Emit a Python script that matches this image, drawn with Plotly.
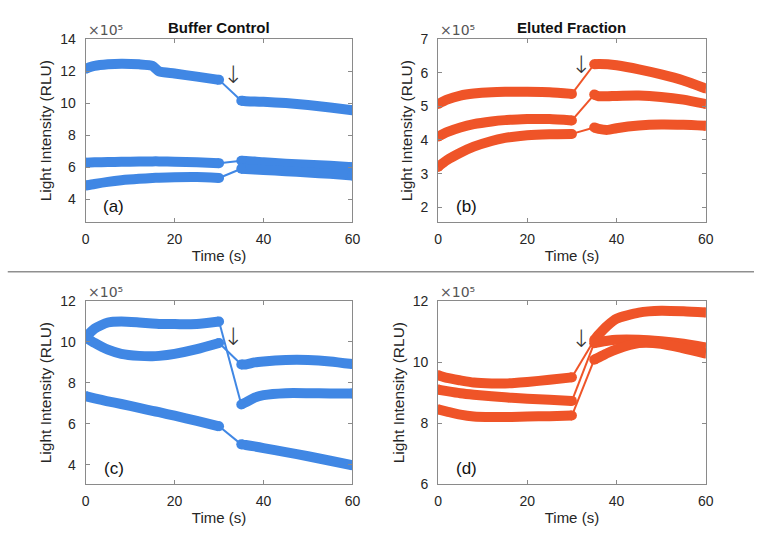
import plotly.graph_objects as go

# ---------------- data (values in units of 1e5 RLU) ----------------
T_PRE = [0, 2, 5, 8, 12, 15, 16.5, 20, 25, 30]
T_POST = [35, 36, 38, 40, 45, 50, 55, 60]

# (a) Buffer Control, top row
a1_pre = [12.15, 12.32, 12.42, 12.46, 12.42, 12.32, 11.98, 11.85, 11.65, 11.45]
a1_post = [10.15, 10.12, 10.10, 10.08, 10.00, 9.88, 9.72, 9.55]
a2_pre = [6.28, 6.30, 6.32, 6.33, 6.35, 6.36, 6.36, 6.34, 6.30, 6.25]
a2_post = [6.40, 6.38, 6.35, 6.30, 6.22, 6.15, 6.08, 6.00]
a3_pre = [4.85, 4.95, 5.08, 5.18, 5.27, 5.32, 5.34, 5.37, 5.38, 5.32]
a3_post = [5.90, 5.88, 5.85, 5.82, 5.75, 5.67, 5.58, 5.48]

# (b) Eluted Fraction, top row
b1_pre = [5.07, 5.20, 5.32, 5.38, 5.42, 5.43, 5.43, 5.43, 5.42, 5.37]
b1_post = [6.25, 6.26, 6.25, 6.22, 6.10, 5.95, 5.77, 5.53]
b2_pre = [4.10, 4.23, 4.37, 4.47, 4.55, 4.59, 4.60, 4.62, 4.62, 4.58]
b2_post = [5.35, 5.30, 5.30, 5.31, 5.32, 5.28, 5.20, 5.07]
b3_pre = [3.20, 3.40, 3.62, 3.80, 3.97, 4.06, 4.09, 4.14, 4.17, 4.18]
b3_post = [4.37, 4.33, 4.30, 4.35, 4.43, 4.46, 4.45, 4.42]

# (c) Buffer Control, bottom row
c1_pre = [10.22, 10.65, 10.95, 11.00, 10.95, 10.90, 10.88, 10.87, 10.88, 11.00]
c1_post = [6.95, 7.05, 7.28, 7.40, 7.50, 7.50, 7.48, 7.48]
c2_pre = [10.22, 9.95, 9.62, 9.42, 9.32, 9.30, 9.32, 9.42, 9.65, 9.95]
c2_post = [8.90, 8.90, 9.00, 9.05, 9.12, 9.12, 9.05, 8.92]
c3_pre = [7.35, 7.25, 7.10, 6.97, 6.78, 6.64, 6.57, 6.40, 6.15, 5.88]
c3_post = [5.00, 4.97, 4.90, 4.82, 4.62, 4.42, 4.20, 3.98]

# (d) Eluted Fraction, bottom row
d1_pre = [9.57, 9.48, 9.40, 9.33, 9.30, 9.30, 9.31, 9.35, 9.42, 9.50]
d1_post = [10.72, 10.90, 11.20, 11.42, 11.62, 11.68, 11.66, 11.62]
d2_pre = [9.10, 9.05, 8.98, 8.93, 8.88, 8.85, 8.83, 8.80, 8.77, 8.73]
d2_post = [10.62, 10.65, 10.70, 10.73, 10.73, 10.68, 10.60, 10.48]
d3_pre = [8.45, 8.38, 8.28, 8.22, 8.20, 8.20, 8.20, 8.22, 8.23, 8.25]
d3_post = [10.08, 10.15, 10.30, 10.42, 10.62, 10.60, 10.45, 10.28]

X_TICKS = [0, 20, 40, 60]
Y_TICKS = {
    "a": [4, 6, 8, 10, 12, 14],
    "b": [2, 3, 4, 5, 6, 7],
    "c": [4, 6, 8, 10, 12],
    "d": [6, 8, 10, 12],
}
Y_RANGES = {"a": [2.55, 14], "b": [1.55, 7], "c": [3.05, 12], "d": [6, 12]}
PANEL_TITLES = {"a": "Buffer Control", "b": "Eluted Fraction"}
ARROWS = {"a": (33.2, 11.78), "b": (32.0, 6.22), "c": (33.2, 10.25), "d": (32.0, 10.75)}

BLUE = "#4087e4"
ORANGE = "#ef5428"

panels = {
    "a": ([(a1_pre, a1_post), (a2_pre, a2_post), (a3_pre, a3_post)], BLUE, "x", "y"),
    "b": ([(b1_pre, b1_post), (b2_pre, b2_post), (b3_pre, b3_post)], ORANGE, "x2", "y2"),
    "c": ([(c1_pre, c1_post), (c2_pre, c2_post), (c3_pre, c3_post)], BLUE, "x3", "y3"),
    "d": ([(d1_pre, d1_post), (d2_pre, d2_post), (d3_pre, d3_post)], ORANGE, "x4", "y4"),
}

W, H = 762, 535
def px_x(p):
    return p / W
def px_y(p):
    return 1 - p / H

domains = {
    "a": ([px_x(83), px_x(354)], [px_y(221), px_y(32)]),
    "b": ([px_x(441), px_x(713)], [px_y(221), px_y(32)]),
    "c": ([px_x(83), px_x(354)], [px_y(491), px_y(302)]),
    "d": ([px_x(441), px_x(713)], [px_y(491), px_y(302)]),
}

fig = go.Figure()
LW = 10
for key, (series, color, xa, ya) in panels.items():
    for pre, post in series:
        # thin connector across the injection gap
        fig.add_trace(go.Scatter(
            x=[T_PRE[-1], T_POST[0]], y=[pre[-1], post[0]], mode="lines",
            line=dict(color=color, width=2), xaxis=xa, yaxis=ya,
            showlegend=False, hoverinfo="skip"))
        for tt, vv in ((T_PRE, pre), (T_POST, post)):
            fig.add_trace(go.Scatter(
                x=tt, y=vv, mode="lines",
                line=dict(color=color, width=LW, shape="spline", smoothing=0.6),
                xaxis=xa, yaxis=ya, showlegend=False))
        # rounded ends of the recorded segments
        fig.add_trace(go.Scatter(
            x=[T_PRE[0], T_PRE[-1], T_POST[0], T_POST[-1]],
            y=[pre[0], pre[-1], post[0], post[-1]], mode="markers",
            marker=dict(color=color, size=LW, opacity=1, line=dict(width=0)),
            xaxis=xa, yaxis=ya, showlegend=False, hoverinfo="skip"))

FONT = "Liberation Sans, Arial, Helvetica, sans-serif"
TXT = "#262626"
AX = "#8a8a8a"

layout = dict(
    width=W, height=H, margin=dict(l=0, r=0, t=0, b=0),
    paper_bgcolor="white", plot_bgcolor="white",
    font=dict(family=FONT, color=TXT, size=14),
    annotations=[], shapes=[],
)
names = {"a": ("xaxis", "yaxis", "x", "y"), "b": ("xaxis2", "yaxis2", "x2", "y2"),
         "c": ("xaxis3", "yaxis3", "x3", "y3"), "d": ("xaxis4", "yaxis4", "x4", "y4")}
for key, (xn, yn, xr, yr) in names.items():
    xd, yd = domains[key]
    layout[xn] = dict(
        domain=xd, anchor=yr, range=[0, 60], tickvals=X_TICKS,
        ticks="inside", ticklen=4, tickcolor=AX, showline=True, linecolor=AX,
        linewidth=1, mirror="ticks", showgrid=False, zeroline=False,
        tickfont=dict(size=14, color=TXT), ticklabelstandoff=4,
        title=dict(text="Time (s)", font=dict(size=15, color=TXT), standoff=4),
    )
    layout[yn] = dict(
        domain=yd, anchor=xr, range=Y_RANGES[key], tickvals=Y_TICKS[key],
        ticks="inside", ticklen=4, tickcolor=AX, showline=True, linecolor=AX,
        linewidth=1, mirror="ticks", showgrid=False, zeroline=False,
        tickfont=dict(size=14, color=TXT), ticklabelstandoff=6,
        title=dict(text="Light Intensity (RLU)", font=dict(size=15.5, color=TXT), standoff=4),
    )
    # x10^5 exponent label
    layout["annotations"].append(dict(
        text="×10⁵", xref=f"{xr} domain", yref=f"{yr} domain",
        x=0, y=1, xanchor="left", yanchor="bottom", showarrow=False,
        font=dict(size=14, color="#555555", family="DejaVu Sans"), yshift=-1))
    # panel label
    layout["annotations"].append(dict(
        text=f"({key})", xref=f"{xr} domain", yref=f"{yr} domain",
        x=0.105, y=0.085, xanchor="center", yanchor="middle", showarrow=False,
        font=dict(size=17, color="#111111")))
    # injection arrow
    ax_t, ax_v = ARROWS[key]
    layout["annotations"].append(dict(
        text="↓", xref=xr, yref=yr, x=ax_t, y=ax_v, xanchor="center", yanchor="middle",
        showarrow=False, font=dict(size=24, color="#333333", family="DejaVu Sans", weight=200)))
    if key in PANEL_TITLES:
        layout["annotations"].append(dict(
            text=f"<b>{PANEL_TITLES[key]}</b>", xref=f"{xr} domain", yref=f"{yr} domain",
            x=0.5, y=1, xanchor="center", yanchor="bottom", showarrow=False,
            font=dict(size=15, color="#111111"), yshift=1))

layout["shapes"].append(dict(
    type="line", xref="paper", yref="paper", x0=0.005, x1=1.0,
    y0=px_y(272), y1=px_y(272), line=dict(color="#8f8f8f", width=1.5)))

fig.update_layout(**layout)
fig.write_html("out.html")
